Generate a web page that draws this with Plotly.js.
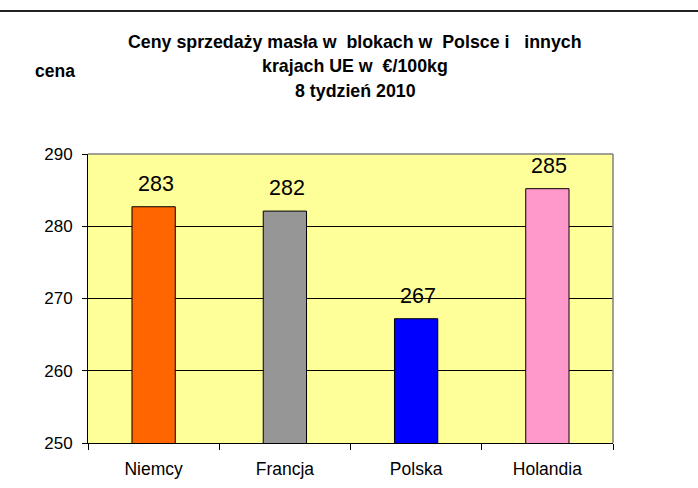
<!DOCTYPE html>
<html><head><meta charset="utf-8">
<script src="https://cdn.plot.ly/plotly-3.0.1.min.js"></script>
<style>body{margin:0;background:#fff}#c{width:698px;height:488px}</style>
</head><body><div id="c"></div>
<script>
const categories = ["Niemcy", "Francja", "Polska", "Holandia"];
const values = [282.7, 282.1, 267.2, 285.2];
const labels = ["283", "282", "267", "285"];
const colors = ["#FF6600", "#969696", "#0000FF", "#FF99CC"];
const titleLines = ["Ceny sprzedaży masła w&#160; blokach w&#160; Polsce i&#160;&#160; innych", "krajach UE w&#160; €/100kg", "8 tydzień 2010"];
const yLabel = "cena";

const F = "Liberation Sans, Arial, sans-serif";
const L = 88, R = 613, T = 154, B = 443, W = 698, H = 488;
const pw = R - L, ph = B - T;
const px = x => (x - L) / pw;
const py = y => (B - y) / ph;

const trace = {
  type: "bar", x: categories, y: values,
  marker: {color: colors, line: {color: "#000", width: 1}},
  width: 0.33, hoverinfo: "none"
};

const annotations = categories.map((c, i) => ({
  x: c, y: values[i], xref: "x", yref: "y", text: labels[i], showarrow: false,
  yanchor: "middle", yshift: 23, xshift: 2, font: {family: F, size: 21.5, color: "#000"}
}));
const titleY = [42, 66, 91];
titleLines.forEach((t, i) => annotations.push({
  xref: "paper", yref: "paper", x: px(355), y: py(titleY[i]), xanchor: "center", yanchor: "middle",
  text: "<b>" + t + "</b>", showarrow: false, font: {family: F, size: 17.8, color: "#000"}
}));
annotations.push({xref: "paper", yref: "paper", x: px(55), y: py(71), xanchor: "center", yanchor: "middle",
  text: "<b>" + yLabel + "</b>", showarrow: false, font: {family: F, size: 17.5, color: "#000"}});

const layout = {
  width: W, height: H, margin: {l: L, r: W - R, t: T, b: H - B, pad: 0},
  paper_bgcolor: "#fff", plot_bgcolor: "#FFFF99", showlegend: false,
  xaxis: {type: "category", showline: true, linecolor: "#000", linewidth: 1, ticks: "outside", tickson: "boundaries",
    ticklen: 6, tickcolor: "#000", showgrid: false, ticklabelstandoff: 10,
    tickfont: {family: F, size: 17.5, color: "#000"}, fixedrange: true},
  yaxis: {range: [250, 290], dtick: 10, showline: true, linecolor: "#000", linewidth: 1, ticks: "outside", ticklen: 5,
    tickcolor: "#000", showgrid: true, gridcolor: "#000", gridwidth: 1, zeroline: false, ticklabelstandoff: 6,
    tickfont: {family: F, size: 17, color: "#000"}, fixedrange: true},
  annotations: annotations,
  shapes: [
    {type: "line", xref: "paper", yref: "paper", x0: 0, x1: 1, y0: 1, y1: 1, line: {color: "#808080", width: 1.5}, layer: "above"},
    {type: "line", xref: "paper", yref: "paper", x0: 1, x1: 1, y0: 0, y1: 1, line: {color: "#808080", width: 1.5}, layer: "above"},
    {type: "line", xref: "paper", yref: "paper", x0: px(0), x1: px(W), y0: py(11), y1: py(11), line: {color: "#222", width: 2}}
  ]
};
Plotly.newPlot("c", [trace], layout, {displayModeBar: false, staticPlot: true});
</script></body></html>
